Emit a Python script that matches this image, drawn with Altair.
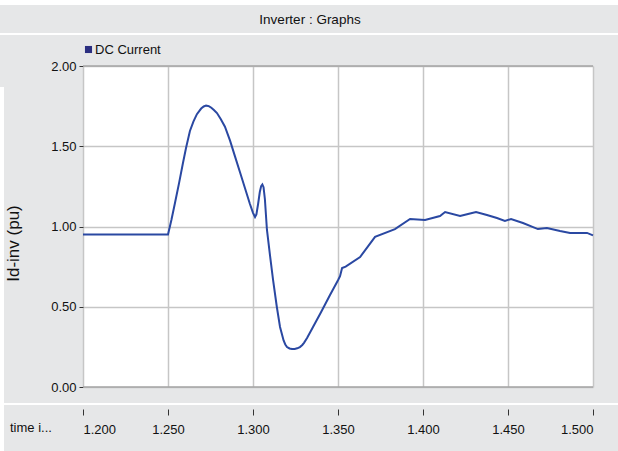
import altair as alt
import pandas as pd

# DC current at the inverter (pu) against simulation time (s)
time_s = [
    1.2000, 1.2500, 1.2520, 1.2541, 1.2565, 1.2588, 1.2606, 1.2629, 1.2650,
    1.2670, 1.2695, 1.2710, 1.2724, 1.2740, 1.2755, 1.2770, 1.2788, 1.2810,
    1.2835, 1.2865, 1.2894, 1.2924, 1.2953, 1.2982, 1.3000, 1.3012, 1.3020,
    1.3030, 1.3040, 1.3048, 1.3055, 1.3062, 1.3070, 1.3082, 1.3100, 1.3118,
    1.3140, 1.3159, 1.3180, 1.3190, 1.3200, 1.3215, 1.3229, 1.3245, 1.3260,
    1.3276, 1.3290, 1.3300, 1.3318, 1.3353, 1.3400, 1.3453, 1.3500, 1.3512,
    1.3524, 1.3545, 1.3630, 1.3718, 1.3835, 1.3924, 1.4012, 1.4100, 1.4130,
    1.4218, 1.4265, 1.4312, 1.4376, 1.4435, 1.4482, 1.4518, 1.4588, 1.4676,
    1.4729, 1.4806, 1.4865, 1.4965, 1.5000,
]
dc_current = [
    0.950, 0.950, 1.040, 1.146, 1.270, 1.396, 1.489, 1.595, 1.655,
    1.700, 1.735, 1.748, 1.753, 1.750, 1.740, 1.726, 1.707, 1.670,
    1.622, 1.535, 1.437, 1.336, 1.238, 1.140, 1.085, 1.059, 1.075,
    1.140, 1.215, 1.252, 1.262, 1.245, 1.170, 0.980, 0.820, 0.667,
    0.500, 0.374, 0.290, 0.265, 0.249, 0.240, 0.237, 0.237, 0.241,
    0.249, 0.262, 0.275, 0.305, 0.374, 0.466, 0.573, 0.665, 0.690,
    0.741, 0.750, 0.810, 0.935, 0.984, 1.047, 1.040, 1.065, 1.090,
    1.065, 1.078, 1.090, 1.072, 1.053, 1.034, 1.047, 1.022, 0.984,
    0.991, 0.972, 0.960, 0.960, 0.945,
]
series_name = "DC Current"

x_ticks = [1.20, 1.25, 1.30, 1.35, 1.40, 1.45, 1.50]
y_ticks = [0.0, 0.5, 1.0, 1.5, 2.0]

panel_title = "Inverter : Graphs"
y_title = "Id-inv (pu)"
x_title = "time i..."

BG = "#e6e7e8"
GRID = "#c6c6c6"
LINE = "#2a48a2"
FONT = "Liberation Sans, Arial, sans-serif"
INK = "#111111"
FS = 13

W, H = 510, 321

df = pd.DataFrame({"time": time_s, "value": dc_current, "series": series_name})

x_enc = alt.X(
    "time:Q",
    scale=alt.Scale(domain=[1.2, 1.5], nice=False, zero=False),
    axis=alt.Axis(
        values=x_ticks, format=".3f", title=None, domain=False,
        offset=22, tickSize=6, tickColor="#333333", tickWidth=1,
        labelPadding=8, labelFont=FONT, labelFontSize=FS, labelColor=INK,
        grid=True, gridColor=GRID, gridWidth=1.5,
    ),
)
y_enc = alt.Y(
    "value:Q",
    scale=alt.Scale(domain=[0, 2], nice=False),
    axis=alt.Axis(
        values=y_ticks, format=".2f", title=None, domain=False,
        tickSize=4, tickColor="#333333", tickWidth=1, labelPadding=3,
        labelFont=FONT, labelFontSize=FS, labelColor=INK,
        grid=True, gridColor=GRID, gridWidth=1.5,
    ),
)

line = alt.Chart(df).mark_line(strokeWidth=2, interpolate="linear").encode(
    x=x_enc,
    y=y_enc,
    color=alt.Color(
        "series:N",
        scale=alt.Scale(range=[LINE]),
        legend=alt.Legend(
            title=None, orient="none", legendX=-1, legendY=-23,
            symbolType="square", symbolSize=50, symbolFillColor="#2b2e80",
            symbolStrokeWidth=0, labelFont=FONT, labelFontSize=FS,
            labelColor=INK, labelOffset=0, padding=0,
        ),
    ),
)

# frame lines along the top and bottom of the plot
border = alt.Chart(pd.DataFrame({"v": [0.0, 2.0]})).mark_rule(
    color="#a6a6a6", strokeWidth=1.5
).encode(y="v:Q", x=alt.value(0), x2=alt.value(W))

# white separators between the header, plot panel and time strip
seps = pd.DataFrame({
    "x": [-83, -83, -83], "x2": [535, 535, 535],
    "y": [-63.5, -32, 338], "w": [5, 2, 2],
})
separators = alt.Chart(seps).mark_rule(color="white").encode(
    x=alt.X("x:Q", scale=None), x2="x2:Q", y=alt.Y("y:Q", scale=None),
    strokeWidth=alt.StrokeWidth("w:Q", scale=None, legend=None),
)
left_strip = alt.Chart(pd.DataFrame({"k": [0]})).mark_rule(
    color="white", strokeWidth=4
).encode(x=alt.value(-81), y=alt.value(21), y2=alt.value(385))

header = alt.Chart(pd.DataFrame({"t": [panel_title]})).mark_text(
    font=FONT, fontSize=13.5, color=INK, align="center", baseline="middle"
).encode(text="t:N", x=alt.value(227), y=alt.value(-46))

ytitle = alt.Chart(pd.DataFrame({"t": [y_title]})).mark_text(
    font=FONT, fontSize=17, color=INK, align="center",
    baseline="middle", angle=270,
).encode(text="t:N", x=alt.value(-69), y=alt.value(177.5))

xtitle = alt.Chart(pd.DataFrame({"t": [x_title]})).mark_text(
    font=FONT, fontSize=FS, color=INK, align="left", baseline="middle",
).encode(text="t:N", x=alt.value(-73), y=alt.value(362))

chart = alt.layer(
    separators, left_strip, border, line, header, ytitle, xtitle
).properties(
    width=W, height=H,
    background=BG,
    padding={"left": 83, "top": 66, "right": 25, "bottom": 64},
    autosize=alt.AutoSizeParams(type="none"),
).configure_view(
    fill="white", stroke=None
)

chart.save("out.html", embed_options={"renderer": "svg", "actions": False})
